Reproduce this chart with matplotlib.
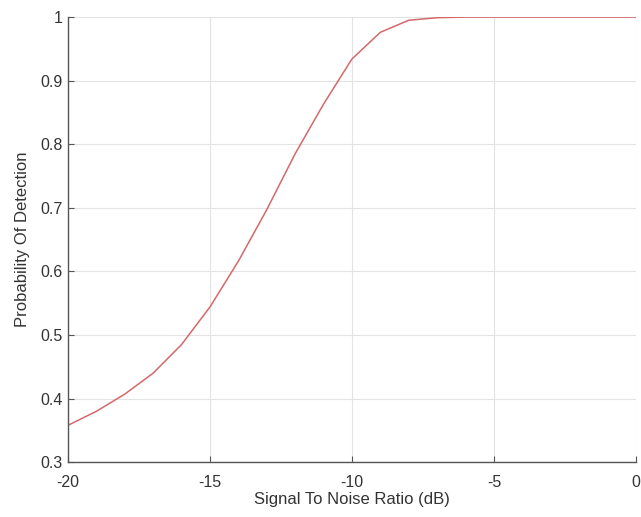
import numpy as np
import matplotlib.pyplot as plt

plt.rcParams['font.family'] = ['Liberation Sans', 'DejaVu Sans']
plt.rcParams['axes.unicode_minus'] = False

# Datos
snr_db = [-20, -19, -18, -17, -16, -15, -14, -13, -12, -11, -10, -9, -8, -7, -6, -5, -4, -3, -2, -1, 0]
pd_vals = [0.358, 0.380, 0.407, 0.440, 0.485, 0.544, 0.616, 0.697, 0.785, 0.863, 0.934, 0.976, 0.995, 0.999,
           1.0, 1.0, 1.0, 1.0, 1.0, 1.0, 1.0]

xticks = [-20, -15, -10, -5, 0]
yticks = [0.3, 0.4, 0.5, 0.6, 0.7, 0.8, 0.9, 1.0]
ytick_labels = ['0.3', '0.4', '0.5', '0.6', '0.7', '0.8', '0.9', '1']

fig = plt.figure(figsize=(6.41, 5.17), dpi=100)
ax = fig.add_axes([0.106, 0.106, 0.886, 0.861])

ax.plot(snr_db, pd_vals, color='#d4686a', linewidth=1.1)

ax.set_xlim(-20, 0)
ax.set_ylim(0.3, 1)
ax.set_xticks(xticks)
ax.set_yticks(yticks)
ax.set_yticklabels(ytick_labels)
ax.grid(True, color='#e3e3e3', linewidth=0.8)
ax.set_axisbelow(True)

for s in ['top', 'right']:
    ax.spines[s].set_visible(False)
for s in ['left', 'bottom']:
    ax.spines[s].set_color('#555555')
    ax.spines[s].set_linewidth(1.0)

ax.tick_params(direction='in', length=4, colors='#555555', labelcolor='#333333', labelsize=11.5)
ax.tick_params(axis='x', pad=9)
ax.set_xlabel('Signal To Noise Ratio (dB)', fontsize=12, color='#333333', labelpad=2)
ax.set_ylabel('Probability Of Detection', fontsize=12, color='#333333', labelpad=8)

fig.savefig('out.png', dpi=100)
